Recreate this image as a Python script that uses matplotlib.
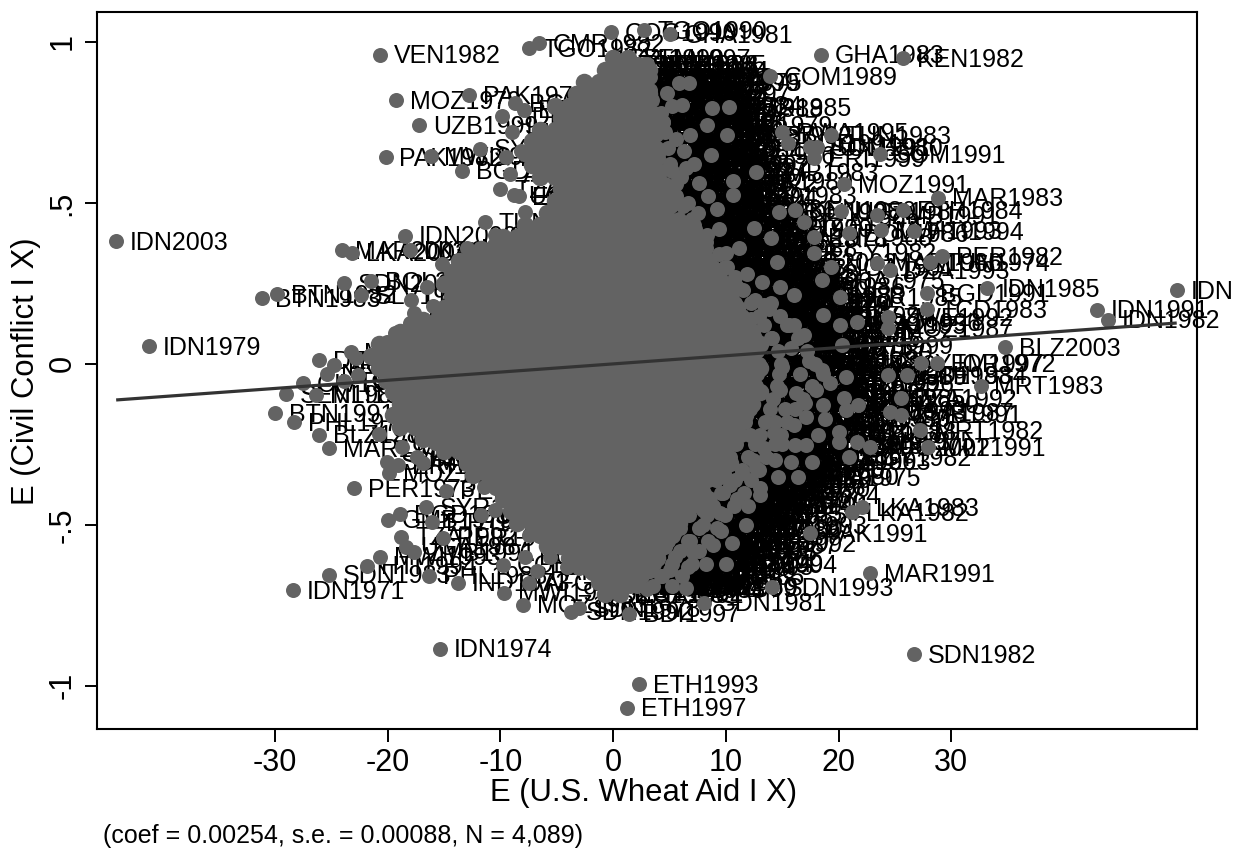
import matplotlib
matplotlib.use("Agg")
import matplotlib.pyplot as plt

plt.rcParams['font.family'] = ['Liberation Sans', 'DejaVu Sans']
plt.rcParams['axes.unicode_minus'] = False

# ---- named outlying country-years (readable labels)
named_labels = ["IDN2003","IDN1979","VEN1982","MOZ1979","PAK1979","UZB1999","PAK1982","MWI1979","SYR1983","BGD1979",
                "TGO1982","CMR1982","COG1990","TGO1990","GHA1981","GHA1983","KEN1982","COM1989","IDN2000","MAR2003",
                "LKA2003","LKA2000","SDN2003","BOL2002","SLV1982","BTN1983","BTN1982","LNG1971","IDN1983","IDN1991",
                "IDN1982","IDN1985","BLZ2003","MOZ1991","MAR1983","PER1982","MRT1983","MRT1982","MLT1991","LKA1982",
                "LKA1983","PAK1991","MAR1991","SDN1993","SDN1981","SDN1982","BDI1997","ETH1993","ETH1997","IDN1974",
                "IDN1971","SDN1983","BTN1991","PHL1979","BLZ1982","MAR1979","PER1973","PER1981","PER1971","GMB1979",
                "MOZ1982","SDN1992","SDN1978","MWI1983","MOZ1983","SOM1991","TUN1983","TUN1991","BGD1991","ZMB1983"]
named_x = [-44.1,-41.2,-20.7,-19.3,-12.8,-17.2,-20.2,-16.2,-11.8,-13.4,
           -7.5,-6.6,-0.2,2.7,5.0,18.4,25.7,13.9,-18.5,-24.1,
           -23.2,-18.0,-23.9,-21.5,-22.4,-31.2,-29.8,-17.9,50.0,42.9,
           43.9,33.2,34.8,20.5,28.8,29.2,32.6,27.2,27.9,21.2,
           22.1,17.5,22.8,14.1,8.1,26.7,1.4,2.3,1.2,-15.4,
           -28.4,-25.2,-30.0,-28.3,-26.1,-25.2,-23.0,-14.8,-15.1,-20.0,
           -19.9,-3.7,-3.0,-9.7,-8.0,23.7,19.3,17.5,27.8,12.7]
named_y = [0.382,0.056,0.96,0.82,0.835,0.742,0.643,0.646,0.668,0.60,
           0.98,0.997,1.03,1.037,1.025,0.96,0.95,0.894,0.398,0.354,
           0.345,0.354,0.25,0.258,0.214,0.205,0.217,0.199,0.23,0.168,
           0.137,0.236,0.053,0.559,0.516,0.335,-0.068,-0.205,-0.258,-0.46,
           -0.444,-0.525,-0.649,-0.693,-0.742,-0.901,-0.776,-0.994,-1.068,-0.885,
           -0.702,-0.655,-0.152,-0.18,-0.22,-0.261,-0.385,-0.394,-0.54,-0.484,
           -0.339,-0.77,-0.758,-0.711,-0.748,0.652,0.711,0.674,0.22,0.596]

# ---- other visible points in the fringe of the cloud
edge_x = [-8.7,-7.9,-9.9,-9.5,-10.0,-8.8,-7.8,-6.0,-7.9,-7.9,-12.7,-10.5,-10.6,-14.1,-12.8,-12.1,-17.7,-18.0,-19.4,-20.1,
          -23.3,-26.1,-24.8,-22.8,-27.5,-29.0,-26.4,-25.4,-23.9,-22.6,-20.8,-18.7,-17.4,-16.9,-15.8,-20.1,-19.1,-11.5,-9.8,
          -16.6,-18.9,-16.1,-11.7,-10.5,-18.8,-18.4,-17.7,-20.7,-21.8,-7.8,-5.6,-9.8,-4.1,-7.5,-16.3,-13.8,-6.8,-7.5,0.7,-4.1,-3.0,-1.9,-1.6,
          5.8,6.7,6.1,8.8,10.3,4.4,8.3,10.1,6.8,8.7,15.0,15.5,18.1,17.8,6.5,7.6,10.6,10.6,25.7,14.7,16.1,16.9,20.2,23.4,23.8,26.7,20.9,
          5.9,8.3,12.5,14.0,17.8,10.0,6.8,14.5,17.8,28.1,23.4,24.6,19.3,18.5,13.2,9.1,16.0,20.1,27.8,13.4,24.4,24.4,21.6,20.1,18.6,16.0,20.3,
          27.3,28.7,20.7,24.4,26.1,20.5,21.7,25.5,24.6,25.5,20.7,18.6,17.1,14.3,12.1,16.1,17.1,20.0,20.0,21.6,22.8,20.9,14.4,15.8,17.6,12.7,16.4,
          13.0,13.0,10.4,9.5,7.8,8.0,10.5,8.9,7.1,6.6,10.0,5.0,6.5,
          4.8,5.2,4.6,5.6,6.3,5.0,6.0,7.2,5.6,6.6,7.5,8.4,9.2,7.2,8.2,9.4,9.9,11.2,11.9,11.0,12.6,12.2,13.8,14.8,15.4,14.0,15.8,16.9,
          15.0,16.6,17.4,18.5,14.8,16.2,18.0,19.2,15.2,17.0,18.8,16.0,14.4,13.4,15.0,18.2,12.4,11.4,14.6,11.0,9.6,12.0,11.8,8.0,9.6,6.8,5.5,8.2,4.2,3.0,
          -9.0,-8.2,-9.2,-8.4,-11.4,-13.0,-15.2,-16.5,-16.0]
edge_y = [0.81,0.79,0.77,0.643,0.543,0.525,0.472,0.438,0.432,0.41,0.345,0.40,0.37,0.27,0.27,0.28,0.158,0.127,0.096,0.068,
          0.037,0.012,-0.003,0.019,-0.059,-0.093,-0.096,-0.03,-0.053,-0.034,-0.217,-0.258,-0.289,-0.307,-0.245,-0.304,-0.314,-0.382,-0.36,
          -0.444,-0.466,-0.491,-0.469,-0.453,-0.537,-0.568,-0.584,-0.599,-0.627,-0.599,-0.599,-0.624,-0.571,-0.531,-0.658,-0.68,-0.643,-0.68,-0.708,-0.63,-0.634,-0.649,-0.587,
          0.873,0.873,0.804,0.795,0.798,0.752,0.742,0.711,0.711,0.649,0.72,0.686,0.674,0.64,0.609,0.562,0.568,0.525,0.478,0.472,0.478,0.441,0.475,0.463,0.416,0.413,0.407,
          0.425,0.40,0.422,0.391,0.394,0.345,0.37,0.317,0.345,0.317,0.314,0.292,0.301,0.261,0.255,0.286,0.214,0.208,0.171,0.183,0.146,0.112,0.13,0.121,0.152,0.121,0.059,
          0.003,0.003,-0.04,-0.034,-0.034,-0.106,-0.127,-0.106,-0.149,-0.158,-0.143,-0.127,-0.165,-0.214,-0.22,-0.252,-0.252,-0.211,-0.242,-0.242,-0.258,-0.289,-0.298,-0.304,-0.304,-0.323,-0.351,
          -0.385,-0.407,-0.376,-0.463,-0.413,-0.453,-0.556,-0.562,-0.584,-0.63,-0.621,-0.64,-0.696,
          0.84,0.80,0.72,0.70,0.66,0.62,0.58,0.62,0.52,0.50,0.47,0.52,0.48,0.43,0.36,0.42,0.30,0.36,0.28,0.24,0.20,0.14,0.17,0.24,0.12,0.08,0.05,0.09,
          -0.01,-0.03,0.01,-0.02,-0.08,-0.09,-0.08,-0.06,-0.14,-0.12,-0.17,-0.19,-0.18,-0.26,-0.25,-0.22,-0.30,-0.34,-0.35,-0.42,-0.40,-0.44,-0.50,-0.50,-0.52,-0.55,-0.60,-0.62,-0.66,-0.70,
          0.72,0.66,0.59,0.52,0.44,0.36,0.31,0.24,0.18]

# ---- the dense centre of the cloud, row by row
core_y = [0.95,0.913,0.876,0.839,0.802,0.765,0.728,0.691,0.654,0.617,0.58,0.543,0.506,0.469,0.432,0.395,0.358,0.321,0.284,0.247,0.21,0.173,0.136,0.099,0.062,0.025,
          -0.012,-0.049,-0.086,-0.123,-0.16,-0.197,-0.234,-0.271,-0.308,-0.345,-0.382,-0.419,-0.456,-0.493,-0.53,-0.567,-0.604,-0.641,-0.678,-0.715]
core_x = [
 [0,1.3],
 [-0.7,0.6,1.9,3.2],
 [-2.6,-1.3,0,1.3,2.6],
 [-3.3,-2,-0.7,0.6,1.9,3.2],
 [-5.2,-3.9,-2.6,-1.3,0,1.3,2.6],
 [-4.6,-3.3,-2,-0.7,0.6,1.9,3.2],
 [-6.5,-5.2,-3.9,-2.6,-1.3,0,1.3,2.6,3.9],
 [-7.2,-5.9,-4.6,-3.3,-2,-0.7,0.6,1.9,3.2],
 [-7.8,-6.5,-5.2,-3.9,-2.6,-1.3,0,1.3,2.6,3.9],
 [-7.2,-5.9,-4.6,-3.3,-2,-0.7,0.6,1.9,3.2],
 [-6.5,-5.2,-3.9,-2.6,-1.3,0,1.3,2.6,3.9],
 [-4.6,-3.3,-2,-0.7,0.6,1.9,3.2,4.5],
 [-5.2,-3.9,-2.6,-1.3,0,1.3,2.6,3.9,5.2],
 [-5.9,-4.6,-3.3,-2,-0.7,0.6,1.9,3.2,4.5],
 [-7.8,-6.5,-5.2,-3.9,-2.6,-1.3,0,1.3,2.6,3.9,5.2],
 [-9.8,-8.5,-7.2,-5.9,-4.6,-3.3,-2,-0.7,0.6,1.9,3.2,4.5,5.8,7.1],
 [-11.7,-10.4,-9.1,-7.8,-6.5,-5.2,-3.9,-2.6,-1.3,0,1.3,2.6,3.9,5.2,6.5,7.8],
 [-13.7,-12.4,-11.1,-9.8,-8.5,-7.2,-5.9,-4.6,-3.3,-2,-0.7,0.6,1.9,3.2,4.5,5.8,7.1,8.4],
 [-14.3,-13,-11.7,-10.4,-9.1,-7.8,-6.5,-5.2,-3.9,-2.6,-1.3,0,1.3,2.6,3.9,5.2,6.5,7.8,9.1],
 [-15,-13.7,-12.4,-11.1,-9.8,-8.5,-7.2,-5.9,-4.6,-3.3,-2,-0.7,0.6,1.9,3.2,4.5,5.8,7.1,8.4,9.7],
 [-14.3,-13,-11.7,-10.4,-9.1,-7.8,-6.5,-5.2,-3.9,-2.6,-1.3,0,1.3,2.6,3.9,5.2,6.5,7.8,9.1,10.4],
 [-15,-13.7,-12.4,-11.1,-9.8,-8.5,-7.2,-5.9,-4.6,-3.3,-2,-0.7,0.6,1.9,3.2,4.5,5.8,7.1,8.4,9.7,11],
 [-16.9,-15.6,-14.3,-13,-11.7,-10.4,-9.1,-7.8,-6.5,-5.2,-3.9,-2.6,-1.3,0,1.3,2.6,3.9,5.2,6.5,7.8,9.1,10.4,11.7],
 [-18.9,-17.6,-16.3,-15,-13.7,-12.4,-11.1,-9.8,-8.5,-7.2,-5.9,-4.6,-3.3,-2,-0.7,0.6,1.9,3.2,4.5,5.8,7.1,8.4,9.7,11,12.3],
 [-20.8,-19.5,-18.2,-16.9,-15.6,-14.3,-13,-11.7,-10.4,-9.1,-7.8,-6.5,-5.2,-3.9,-2.6,-1.3,0,1.3,2.6,3.9,5.2,6.5,7.8,9.1,10.4,11.7,13],
 [-21.5,-20.2,-18.9,-17.6,-16.3,-15,-13.7,-12.4,-11.1,-9.8,-8.5,-7.2,-5.9,-4.6,-3.3,-2,-0.7,0.6,1.9,3.2,4.5,5.8,7.1,8.4,9.7,11,12.3],
 [-20.8,-19.5,-18.2,-16.9,-15.6,-14.3,-13,-11.7,-10.4,-9.1,-7.8,-6.5,-5.2,-3.9,-2.6,-1.3,0,1.3,2.6,3.9,5.2,6.5,7.8,9.1,10.4,11.7,13],
 [-20.2,-18.9,-17.6,-16.3,-15,-13.7,-12.4,-11.1,-9.8,-8.5,-7.2,-5.9,-4.6,-3.3,-2,-0.7,0.6,1.9,3.2,4.5,5.8,7.1,8.4,9.7,11,12.3],
 [-19.5,-18.2,-16.9,-15.6,-14.3,-13,-11.7,-10.4,-9.1,-7.8,-6.5,-5.2,-3.9,-2.6,-1.3,0,1.3,2.6,3.9,5.2,6.5,7.8,9.1,10.4,11.7,13],
 [-18.9,-17.6,-16.3,-15,-13.7,-12.4,-11.1,-9.8,-8.5,-7.2,-5.9,-4.6,-3.3,-2,-0.7,0.6,1.9,3.2,4.5,5.8,7.1,8.4,9.7,11,12.3],
 [-19.5,-18.2,-16.9,-15.6,-14.3,-13,-11.7,-10.4,-9.1,-7.8,-6.5,-5.2,-3.9,-2.6,-1.3,0,1.3,2.6,3.9,5.2,6.5,7.8,9.1,10.4,11.7],
 [-18.9,-17.6,-16.3,-15,-13.7,-12.4,-11.1,-9.8,-8.5,-7.2,-5.9,-4.6,-3.3,-2,-0.7,0.6,1.9,3.2,4.5,5.8,7.1,8.4,9.7,11],
 [-16.9,-15.6,-14.3,-13,-11.7,-10.4,-9.1,-7.8,-6.5,-5.2,-3.9,-2.6,-1.3,0,1.3,2.6,3.9,5.2,6.5,7.8,9.1,10.4],
 [-15,-13.7,-12.4,-11.1,-9.8,-8.5,-7.2,-5.9,-4.6,-3.3,-2,-0.7,0.6,1.9,3.2,4.5,5.8,7.1,8.4,9.7],
 [-13,-11.7,-10.4,-9.1,-7.8,-6.5,-5.2,-3.9,-2.6,-1.3,0,1.3,2.6,3.9,5.2,6.5,7.8,9.1,10.4],
 [-12.4,-11.1,-9.8,-8.5,-7.2,-5.9,-4.6,-3.3,-2,-0.7,0.6,1.9,3.2,4.5,5.8,7.1,8.4,9.7],
 [-10.4,-9.1,-7.8,-6.5,-5.2,-3.9,-2.6,-1.3,0,1.3,2.6,3.9,5.2,6.5,7.8],
 [-9.8,-8.5,-7.2,-5.9,-4.6,-3.3,-2,-0.7,0.6,1.9,3.2,4.5,5.8,7.1,8.4],
 [-9.1,-7.8,-6.5,-5.2,-3.9,-2.6,-1.3,0,1.3,2.6,3.9,5.2,6.5],
 [-8.5,-7.2,-5.9,-4.6,-3.3,-2,-0.7,0.6,1.9,3.2,4.5,5.8],
 [-6.5,-5.2,-3.9,-2.6,-1.3,0,1.3,2.6,3.9,5.2],
 [-5.9,-4.6,-3.3,-2,-0.7,0.6,1.9,3.2,4.5],
 [-3.9,-2.6,-1.3,0,1.3,2.6,3.9],
 [-2,-0.7,0.6,1.9,3.2],
 [-1.3,0,1.3],
 [-0.7,0.6],
]

# ---- points along the right-hand side of the cloud, row by row
band_y = [0.93,0.89,0.85,0.82,0.78,0.75,0.71,0.67,0.64,0.60,0.56,0.53,0.49,0.45,0.42,0.38,0.34,0.30,0.27,0.23,0.19,0.15,0.12,0.08,0.04,0.0,
          -0.03,-0.07,-0.11,-0.14,-0.18,-0.22,-0.25,-0.29,-0.33,-0.36,-0.40,-0.44,-0.47,-0.51,-0.55,-0.58,-0.62,-0.66,-0.69]
band_x = [
 [1.4,2.2,3.0,2.7,0.9],[1.1,1.9,2.7,3.3,2.4,0.6],[1.2,2.1,2.8,3.3,1.7,0.5],[1.3,2.0,2.9,3.4,2.5,1.0],[1.5,2.3,3.1,3.6,2.7,1.1,4.2],
 [1.6,2.4,3.2,3.7,2.9,1.2,4.4],[1.7,2.5,3.3,3.8,3.0,1.3],[1.8,2.6,3.4,3.9,3.1,1.4,4.9],[1.9,2.7,3.5,4.0,3.2,1.5],[2.0,2.9,3.7,4.2,3.3,1.6,5.2],
 [2.3,3.1,3.9,4.6,3.6,1.9,5.6],[2.6,3.4,4.2,4.9,3.9,2.1],[2.8,3.6,4.4,5.1,4.1,2.3,6.2],[3.4,4.2,5.0,5.8,4.7,2.9,7.0],[4.0,4.8,5.6,6.3,5.2,3.4,7.3],
 [4.8,5.6,6.4,7.1,6.0,4.2,8.2],[5.7,6.5,7.3,8.1,6.9,5.1,9.4],[6.6,7.4,8.2,8.9,7.8,6.0,10.1],[7.2,8.0,8.8,9.5,8.4,6.6,10.8],[7.8,8.6,9.4,10.1,9.0,7.2,11.5],
 [8.4,9.2,10.0,10.8,9.6,7.8,12.2,14.0],[9.0,9.8,10.6,11.4,10.2,8.4,12.9,14.8],[9.6,10.4,11.2,11.9,10.8,9.0,13.4,15.6],[10.2,11.0,11.8,12.6,11.4,9.6,14.1,16.4],[10.5,11.3,12.1,12.8,11.7,9.9,14.6,17.2],
 [10.6,11.4,12.2,12.9,11.8,10.0,14.9,17.9],[10.5,11.3,12.1,12.8,11.7,9.9,14.7,18.6],[10.4,11.2,12.0,12.7,11.6,9.8,14.5,17.6],[10.0,10.8,11.6,12.3,11.2,9.4,14.2,16.8],[9.8,10.6,11.4,12.1,11.0,9.2,13.9,16.1],
 [9.4,10.2,11.0,11.7,10.6,8.8,13.5,15.4],[9.0,9.8,10.6,11.3,10.2,8.4,13.0,14.9],[8.6,9.4,10.2,10.9,9.8,8.0,12.6,14.4],[8.1,8.9,9.7,10.4,9.3,7.5,12.0,13.6],[7.5,8.3,9.1,9.8,8.7,6.9,11.4,12.9],
 [6.8,7.6,8.4,9.1,8.0,6.2,10.8,12.2],[5.8,6.6,7.4,8.1,7.0,5.2,9.7,11.6],[4.8,5.6,6.4,7.1,6.0,4.2,8.9,10.7],[4.4,5.2,6.0,6.7,5.6,3.8,8.3,9.9],[3.6,4.4,5.2,5.9,4.8,3.0,7.6,9.2],
 [2.6,3.4,4.2,4.9,3.8,2.0,6.6,8.4],[1.8,2.6,3.4,4.1,3.0,1.2,5.9,7.6],[1.3,2.1,2.9,3.6,2.5,0.7,5.2,7.0],[0.4,1.2,2.0,2.6,1.6,0.0,4.3,6.1],[-0.1,0.7,1.5,2.1,1.1,-0.4,3.5,5.2],
]

# ---- country-years for labels hidden in the dense part of the cloud
hidden_labels = ["BGD1983","ETH1984","SDN1985","KEN1980","TZA1992","UGA1987","ZMB1991","MWI1993","HTI1994","BOL1986",
                 "PER1989","COL1977","NPL1990","LKA1978","PHL1988","IND1973","PAK1975","AFG2002","EGY1982","TUN1974",
                 "MAR1986","DZA1993","NGA1991","GHA1975","CIV1990","SEN1984","MLI1988","NER1985","TCD1983","CMR1979",
                 "ZWE1992","MOZ1987","AGO1996","RWA1995","BDI1994","SOM1980","ERI1999","YEM1997","JOR1972","SYR1989"]

# ---- regression line and annotation
fit_x = [-44.1, 50.0]
fit_slope = 0.00254
x_ticks = [-30,-20,-10,0,10,20,30]
y_ticks = [-1,-0.5,0,0.5,1]
y_tick_labels = ["-1","-.5","0",".5","1"]
caption = "(coef = 0.00254, s.e. = 0.00088, N = 4,089)"

MARK = "#636363"
W, H = 1233, 852
fig = plt.figure(figsize=(W/100, H/100), dpi=100)
ax = fig.add_axes([97/W, 1-729/H, (1197-97)/W, (729-12)/H])
ax.set_xlim(-45.8, 51.8)
ax.set_ylim(-1.134, 1.093)

out_x, out_y, out_l = list(named_x), list(named_y), list(named_labels)
n = 0
for x, y in zip(edge_x, edge_y):
    out_x.append(x); out_y.append(y); out_l.append(hidden_labels[n % len(hidden_labels)]); n += 1
for y, xs in zip(band_y, band_x):
    for x in xs:
        out_x.append(x); out_y.append(y); out_l.append(hidden_labels[n % len(hidden_labels)]); n += 1
in_x, in_y, in_l = [], [], []
for y, xs in zip(core_y, core_x):
    for x in xs:
        in_x.append(x); in_y.append(y); in_l.append(hidden_labels[n % len(hidden_labels)]); n += 1

for x, y, l in zip(out_x + in_x, out_y + in_y, out_l + in_l):
    ax.annotate(l, (x, y), xytext=(10, -1.2), textcoords='offset points', fontsize=18, color='black',
                va='center', ha='left', zorder=2, annotation_clip=False)
ax.scatter(in_x, in_y, s=(17.5*0.72)**2, color=MARK, linewidths=0, zorder=3, clip_on=False)
ax.scatter(out_x, out_y, s=(15*0.72)**2, color=MARK, linewidths=0, zorder=3, clip_on=False)
ax.plot(fit_x, [fit_slope*v for v in fit_x], color="#333333", lw=2.3, zorder=4, solid_capstyle='butt')

ax.set_xticks(x_ticks)
ax.set_yticks(y_ticks)
ax.set_yticklabels(y_tick_labels, rotation=90, va='center')
ax.tick_params(axis='both', labelsize=22, length=9, width=1.4, pad=5)
for s in ax.spines.values():
    s.set_linewidth(1.5)
fig.text(643/W, 1-793/H, "E (U.S. Wheat Aid I X)", fontsize=22.3, ha='center', va='center')
fig.text(26/W, 1-371/H, "E (Civil Conflict I X)", fontsize=22.3, rotation=90, ha='center', va='center')
fig.text(103/W, 1-836/H, caption, fontsize=18, ha='left', va='center')
fig.savefig("out.png", dpi=100)
